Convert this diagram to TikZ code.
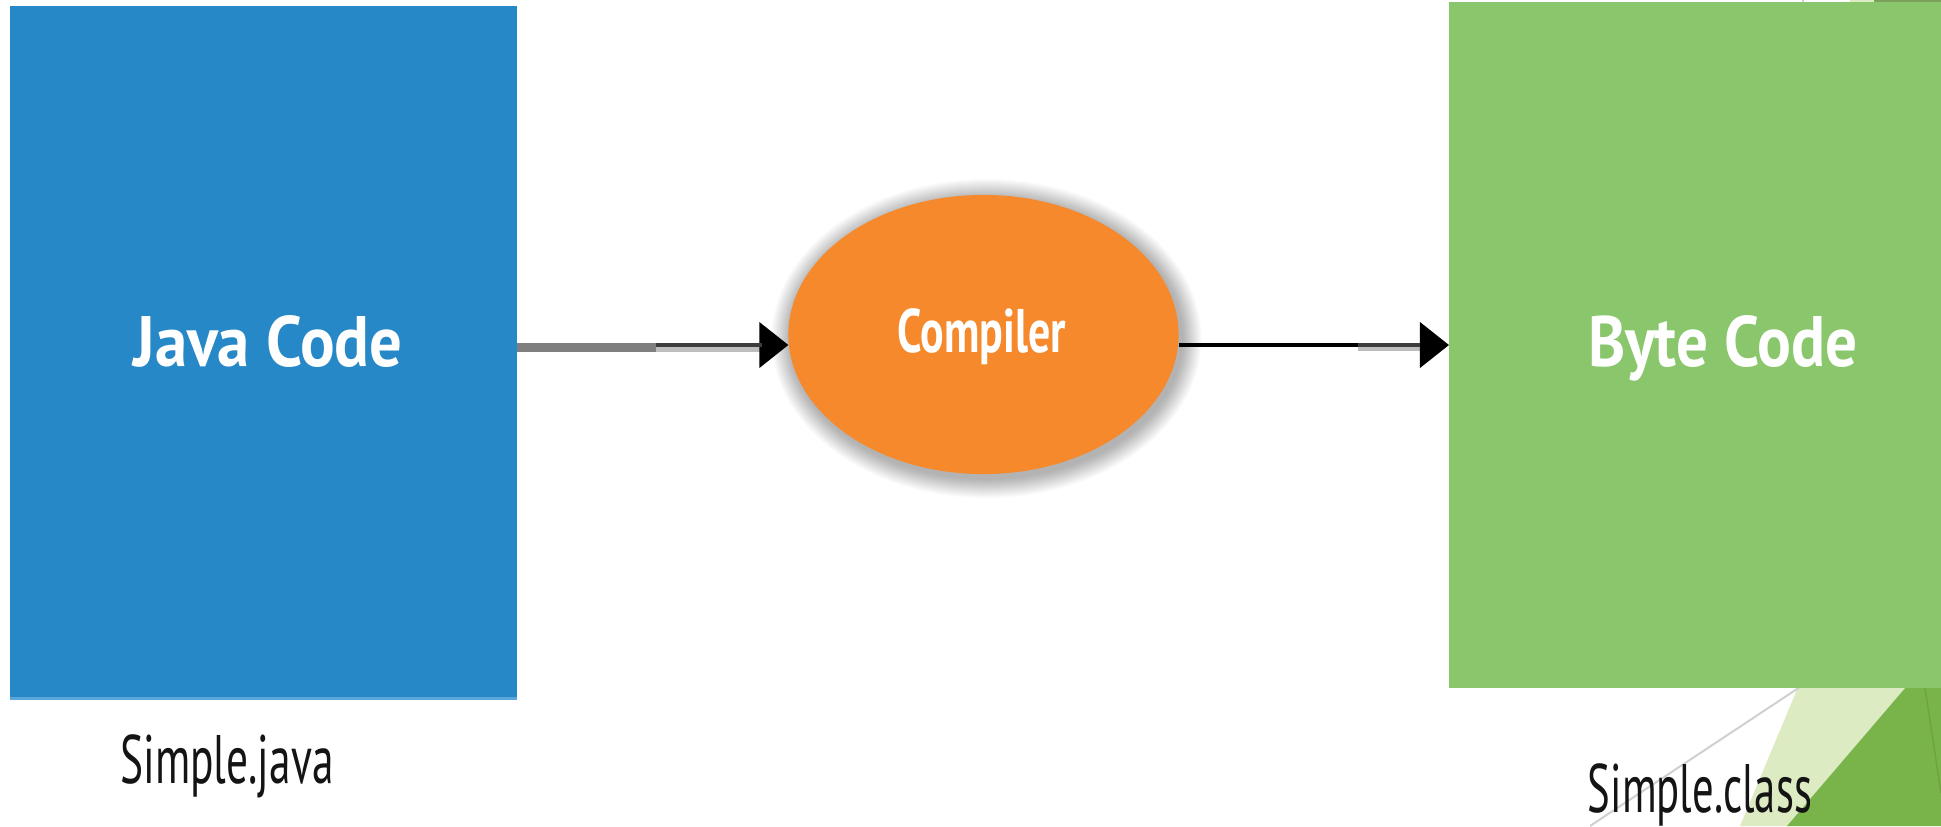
\documentclass[tikz,border=0pt]{standalone}
\usepackage{fontspec}
\setmainfont{PT Sans}
\usepackage{graphicx}
\usetikzlibrary{shapes.geometric,arrows.meta}

\definecolor{javablue}{HTML}{2688C6}
\definecolor{javablueedge}{HTML}{5AA6DA}
\definecolor{comporange}{HTML}{F5892B}
\definecolor{bytegreen}{HTML}{8AC66C}
\definecolor{palegreen}{HTML}{DDEBC3}
\definecolor{deepgreen}{HTML}{79B44A}
\definecolor{ridgegreen}{HTML}{6EA53F}
\definecolor{facetgray}{HTML}{D0D0D0}
\definecolor{topgreen}{HTML}{7C9F5B}
\definecolor{shaftgray}{HTML}{7F7F7F}
\definecolor{shaftdark}{HTML}{3C3C3C}
\definecolor{shaftshade}{HTML}{BDBDBD}

% squeeze a label to a given printed width, keeping its height
\newcommand{\fitw}[2]{\resizebox{#1}{\height}{#2}}

\begin{document}
\begin{tikzpicture}[x=0.01cm,y=-0.01cm,
  panel/.style={rectangle, inner sep=0, outer sep=0, anchor=north west},
  boxlabel/.style={text=white, inner sep=0, anchor=base,
    font=\bfseries\fontsize{20.3}{22}\selectfont},
  complabel/.style={text=white, inner sep=0, anchor=base,
    font=\bfseries\fontsize{17.5}{19}\selectfont},
  filelabel/.style={text=black!92, inner sep=0, anchor=base,
    font=\fontsize{19.5}{21}\selectfont},
  flow/.style={line width=0.04cm, black,
    -{Triangle[length=0.29cm,width=0.45cm]}},
  stage/.style={ellipse, fill=comporange, inner sep=0, outer sep=0,
    minimum width=3.9cm, minimum height=2.79cm},
]
\useasboundingbox (0,0) rectangle (1941,826);
\fill[white] (0,0) rectangle (1941,826);

% background facets in the right-hand corner
\fill[facetgray] (1802,0) rectangle (1804,3);
\fill[palegreen] (1850,0) rectangle (1874,3);
\fill[topgreen] (1874,0) rectangle (1941,3);
\fill[palegreen] (1801,680) -- (1912,680) -- (1787,826) -- (1740,826) -- cycle;
\fill[deepgreen] (1912,680) -- (1941,680) -- (1941,826) -- (1787,826) -- cycle;
\draw[ridgegreen, line width=0.015cm] (1925,688) -- (1941,793);
\draw[facetgray, line width=0.02cm] (1800,687) -- (1590,826);

% source and output panels
\node[panel, fill=javablue, minimum width=5.07cm, minimum height=6.94cm] (java) at (10,6) {};
\fill[javablueedge] (java.south west) rectangle ([yshift=0.03cm]java.south east);
\node[panel, fill=bytegreen, minimum width=4.95cm, minimum height=6.86cm] (byte) at (1449,2) {};

% compiler stage with its soft halo
\coordinate (cc) at (983.5,334.5);
\foreach \i in {1,...,20}
  \fill[black, fill opacity=0.017] ([xshift=0.03cm,yshift=-0.04cm]cc)
    ellipse [x radius={1.95cm+\i*0.1mm}, y radius={1.395cm+\i*0.1mm}];
\node[stage] (comp) at (cc) {};

% connectors
\coordinate (lane) at (0,345);
\coordinate (split1) at (656,345);
\coordinate (head1) at (762,345);
\coordinate (split2) at (1358,345);
\coordinate (head2) at (1420,345);

\draw[shaftshade, line width=0.05cm] ([yshift=-0.04cm]split1) -- ([yshift=-0.04cm]head1);
\draw[flow] (java.east |- lane) -- (comp.west |- lane);
\draw[shaftgray, line width=0.09cm] ([yshift=-0.025cm]java.east |- lane) -- ([yshift=-0.025cm]split1);
\draw[shaftdark, line width=0.037cm] (split1) -- (head1);

\draw[shaftshade, line width=0.045cm] ([yshift=-0.04cm]split2) -- ([yshift=-0.04cm]head2);
\draw[flow] (comp.east |- lane) -- (byte.west |- lane);
\draw[shaftdark, line width=0.04cm] (split2) -- (head2);

% labels
\node[boxlabel] (javatext) at (268,366) {\fitw{2.69cm}{Java Code}};
\node[boxlabel] (bytetext) at (1723,366) {\fitw{2.69cm}{Byte Code}};
\node[complabel] (comptext) at (982,352) {\fitw{1.68cm}{Compiler}};
\node[filelabel] (javafile) at (227,783) {\fitw{2.13cm}{Simple.java}};
\node[filelabel] (bytefile) at (1700,812) {\fitw{2.24cm}{Simple.class}};
\end{tikzpicture}
\end{document}
